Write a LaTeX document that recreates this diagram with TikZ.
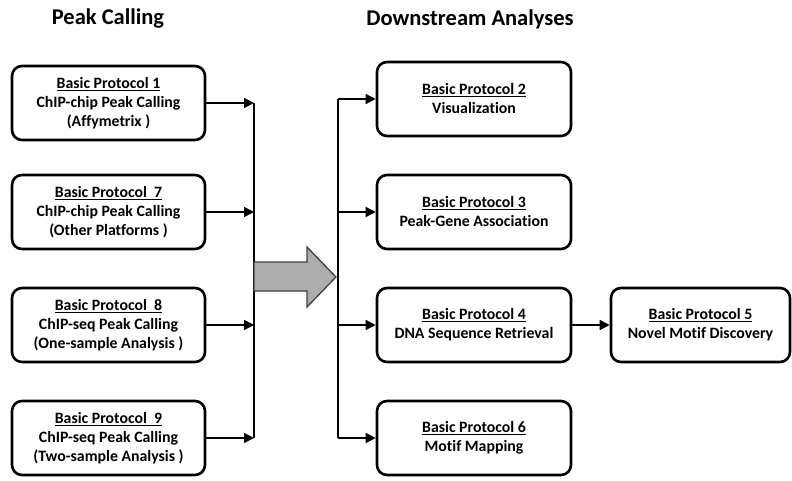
\documentclass[tikz,border=0pt]{standalone}
\usepackage{fontspec}
\setmainfont[Ligatures=NoCommon]{Carlito}
\usetikzlibrary{arrows.meta}
\begin{document}
\begin{tikzpicture}[x=1pt,y=-1pt,
  pbox/.style={draw, line width=2.6pt, rounded corners=10pt, align=center,
    minimum height=74pt, inner sep=2pt, font=\bfseries\fontsize{15.8}{19}\selectfont},
  lbox/.style={pbox, minimum width=193pt},
  rbox/.style={pbox, minimum width=194pt},
  conn/.style={line width=1.5pt, -{Triangle[length=10pt,width=10pt]}},
  vline/.style={line width=1.5pt},
  title/.style={font=\bfseries\fontsize{22.5}{24}\selectfont}]
\useasboundingbox (0,0) rectangle (792,481);

\node[title] (t1) at (108,19) {Peak Calling};
\node[title] (t2) at (470,19) {Downstream Analyses};

\node[lbox] (b1) at (108.5,103) {\underline{Basic Protocol 1}\\ChIP-chip Peak Calling\\(Affymetrix )};
\node[lbox] (b7) at (108.5,212) {\underline{Basic Protocol\ \ 7}\\ChIP-chip Peak Calling\\(Other Platforms )};
\node[lbox] (b8) at (108.5,325) {\underline{Basic Protocol\ \ 8}\\ChIP-seq Peak Calling\\(One-sample Analysis )};
\node[lbox] (b9) at (108.5,438) {\underline{Basic Protocol\ \ 9}\\ChIP-seq Peak Calling\\(Two-sample Analysis )};

\node[rbox] (b2) at (474,99) {\underline{Basic Protocol 2}\\Visualization};
\node[rbox] (b3) at (474,212) {\underline{Basic Protocol 3}\\Peak-Gene Association};
\node[rbox] (b4) at (474,325) {\underline{Basic Protocol 4}\\DNA Sequence Retrieval};
\node[rbox] (b6) at (474,438) {\underline{Basic Protocol 6}\\Motif Mapping};
\node[pbox, minimum width=179pt] (b5) at (700.5,325) {\underline{Basic Protocol 5}\\Novel Motif Discovery};

% left collector
\coordinate (l1) at (254,103);
\coordinate (l7) at (254,212);
\coordinate (l8) at (254,325);
\coordinate (l9) at (254,438);
\draw[conn] (b1.east) -- (l1);
\draw[conn] (b7.east) -- (l7);
\draw[conn] (b8.east) -- (l8);
\draw[conn] (b9.east) -- (l9);
\draw[vline] (l1) -- (l9);

% right distributor
\coordinate (r2) at (338,99);
\coordinate (r3) at (338,212);
\coordinate (r4) at (338,325);
\coordinate (r6) at (338,438);
\draw[vline] (r2) -- (r6);
\draw[conn] (r2) -- (b2.west);
\draw[conn] (r3) -- (b3.west);
\draw[conn] (r4) -- (b4.west);
\draw[conn] (r6) -- (b6.west);

\draw[conn] (b4.east) -- (b5.west);

% big arrow
\draw[line width=1.3pt, draw=black!75, fill=black!32, line join=miter]
  (254,262) -- (307,262) -- (307,247) -- (336,277) -- (307,307) -- (307,291) -- (254,291) -- cycle;
\end{tikzpicture}
\end{document}
